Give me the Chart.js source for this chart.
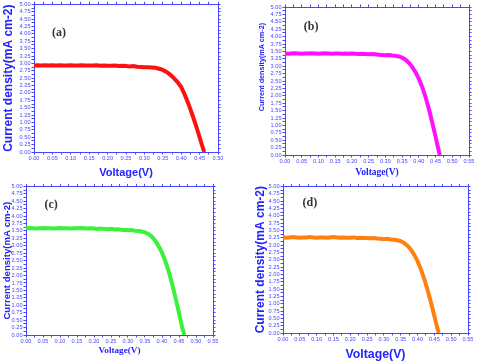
<!DOCTYPE html>
<html>
<head>
<meta charset="utf-8">
<script src="https://cdn.jsdelivr.net/npm/chart.js@4.4.1/dist/chart.umd.min.js"></script>
<style>
  html, body { margin: 0; padding: 0; background: #fff; }
  #wrap { position: relative; width: 480px; height: 364px; overflow: hidden; }
  canvas { position: absolute; }
</style>
</head>
<body>
<div id="wrap">
  <canvas id="chartA" width="240" height="182" style="left:0;top:0"></canvas>
  <canvas id="chartB" width="240" height="182" style="left:240px;top:0"></canvas>
  <canvas id="chartC" width="240" height="182" style="left:0;top:182px"></canvas>
  <canvas id="chartD" width="240" height="182" style="left:240px;top:182px"></canvas>
</div>
<script>
// J-V curves
const voltageA = [0.00,0.01,0.02,0.03,0.04,0.05,0.06,0.07,0.08,0.09,0.10,0.11,0.12,0.13,0.14,0.15,0.16,0.17,0.18,0.19,
  0.20,0.21,0.22,0.23,0.24,0.25,0.26,0.27,0.28,0.29,0.30,0.31,0.32,0.33,0.34,0.35,0.36,0.37,0.38,0.39,
  0.40,0.41,0.42,0.43,0.44,0.45,0.46,0.463];
const currentA = [2.93,2.94,2.93,2.94,2.93,2.94,2.93,2.94,2.93,2.93,2.94,2.93,2.93,2.94,2.93,2.93,2.93,2.94,2.92,2.93,
  2.92,2.92,2.93,2.91,2.92,2.91,2.90,2.91,2.89,2.88,2.87,2.87,2.86,2.85,2.82,2.78,2.71,2.62,2.50,2.37,
  2.20,1.93,1.62,1.27,0.90,0.50,0.09,0.00];

const voltageB = [0.00,0.01,0.02,0.03,0.04,0.05,0.06,0.07,0.08,0.09,0.10,0.11,0.12,0.13,0.14,0.15,0.16,0.17,0.18,0.19,
  0.20,0.21,0.22,0.23,0.24,0.25,0.26,0.27,0.28,0.29,0.30,0.31,0.32,0.33,0.34,0.35,0.36,0.37,0.38,0.39,
  0.40,0.41,0.42,0.43,0.44,0.45,0.46,0.463];
const currentB = [3.43,3.42,3.43,3.44,3.43,3.42,3.43,3.43,3.44,3.43,3.42,3.43,3.44,3.43,3.42,3.43,3.43,3.42,3.43,3.42,
  3.43,3.42,3.41,3.42,3.41,3.40,3.41,3.40,3.39,3.38,3.37,3.38,3.36,3.35,3.33,3.29,3.22,3.12,2.98,2.80,
  2.58,2.30,1.96,1.56,1.10,0.62,0.12,0.00];

const voltageC = [0.00,0.01,0.02,0.03,0.04,0.05,0.06,0.07,0.08,0.09,0.10,0.11,0.12,0.13,0.14,0.15,0.16,0.17,0.18,0.19,
  0.20,0.21,0.22,0.23,0.24,0.25,0.26,0.27,0.28,0.29,0.30,0.31,0.32,0.33,0.34,0.35,0.36,0.37,0.38,0.39,
  0.40,0.41,0.42,0.43,0.44,0.45,0.46,0.466];
const currentC = [3.59,3.60,3.59,3.58,3.59,3.60,3.59,3.59,3.58,3.59,3.60,3.59,3.59,3.58,3.59,3.59,3.60,3.59,3.58,3.59,
  3.58,3.57,3.58,3.57,3.56,3.57,3.55,3.56,3.54,3.53,3.52,3.53,3.51,3.50,3.48,3.45,3.40,3.31,3.17,2.99,
  2.77,2.48,2.13,1.71,1.24,0.74,0.22,0.00];

const voltageD = [0.00,0.01,0.02,0.03,0.04,0.05,0.06,0.07,0.08,0.09,0.10,0.11,0.12,0.13,0.14,0.15,0.16,0.17,0.18,0.19,
  0.20,0.21,0.22,0.23,0.24,0.25,0.26,0.27,0.28,0.29,0.30,0.31,0.32,0.33,0.34,0.35,0.36,0.37,0.38,0.39,
  0.40,0.41,0.42,0.43,0.44,0.45,0.46,0.463];
const currentD = [3.26,3.25,3.26,3.27,3.26,3.25,3.26,3.26,3.27,3.26,3.25,3.26,3.26,3.25,3.26,3.27,3.26,3.25,3.26,3.25,
  3.25,3.26,3.24,3.25,3.24,3.24,3.23,3.24,3.22,3.21,3.20,3.21,3.19,3.18,3.16,3.13,3.07,2.98,2.85,2.67,
  2.45,2.17,1.84,1.46,1.04,0.58,0.12,0.00];

const panelTags = ['(a)', '(b)', '(c)', '(d)'];
const yTitle = 'Current density(mA cm-2)';
const xTitle = 'Voltage(V)';

const AXIS_BLUE = '#4646ff';
const TITLE_BLUE = '#2424ff';
const SANS = 'Arial, "Liberation Sans", sans-serif';
const SERIF = '"Times New Roman", "Liberation Serif", serif';

// Draws the (a)/(b)/... tag at a data position
const tagPlugin = {
  id: 'panelTag',
  afterDatasetsDraw(chart, args, opts) {
    const ctx = chart.ctx;
    const x = chart.scales.x.getPixelForValue(opts.at[0]);
    const y = chart.scales.y.getPixelForValue(opts.at[1]);
    ctx.save();
    ctx.font = 'bold 12px ' + SERIF;
    ctx.fillStyle = '#333';
    ctx.textAlign = 'center';
    ctx.textBaseline = 'middle';
    ctx.fillText(opts.text, x, y);
    ctx.restore();
  }
};

function tickCb(value, index) {
  return index % 2 === 0 ? value.toFixed(2) : '';
}

function makePanel(id, p) {
  const pts = p.v.map((v, i) => ({ x: v, y: p.j[i] }));
  const edge = { display: true, color: AXIS_BLUE, width: 1 };
  const marks = { drawOnChartArea: false, drawTicks: true, tickLength: 2.5, color: AXIS_BLUE };
  const lbl = { color: AXIS_BLUE, font: { family: SANS, size: 5.6 }, padding: 1, autoSkip: false, maxRotation: 0 };

  new Chart(document.getElementById(id), {
    type: 'line',
    data: {
      datasets: [{
        data: pts,
        borderColor: p.color,
        borderWidth: 4,
        pointRadius: 0,
        tension: 0
      }]
    },
    plugins: [tagPlugin],
    options: {
      responsive: false,
      animation: false,
      devicePixelRatio: 1,
      layout: { padding: 0 },
      plugins: {
        legend: { display: false },
        tooltip: { enabled: false },
        panelTag: { text: p.tag, at: p.tagAt }
      },
      scales: {
        x: {
          type: 'linear', position: 'bottom', min: 0, max: p.xMax,
          border: edge, grid: marks,
          ticks: Object.assign({ stepSize: 0.025, callback: tickCb }, lbl),
          title: { display: true, text: xTitle, color: TITLE_BLUE, font: p.xFont, padding: { top: 0, bottom: p.xPad } },
          afterFit: s => { s.height = p.bottom; }
        },
        x2: {
          type: 'linear', position: 'top', min: 0, max: p.xMax,
          border: edge, grid: marks,
          ticks: { display: false, stepSize: 0.025, autoSkip: false },
          afterFit: s => { s.height = p.top; }
        },
        y: {
          type: 'linear', position: 'left', min: 0, max: 5,
          border: edge, grid: marks,
          ticks: Object.assign({ stepSize: 0.125, callback: tickCb }, lbl),
          title: {
            display: true, text: p.yText || yTitle, align: p.yAlign || 'center',
            color: TITLE_BLUE, font: p.yFont, padding: { top: p.yPad, bottom: 0 }
          },
          afterFit: s => { s.width = p.left; }
        },
        y2: {
          type: 'linear', position: 'right', min: 0, max: 5,
          border: edge, grid: marks,
          ticks: { display: false, stepSize: 0.125, autoSkip: false },
          afterFit: s => { s.width = p.right; }
        }
      }
    }
  });
}

makePanel('chartA', {
  v: voltageA, j: currentA, color: '#ff1010', tag: panelTags[0], tagAt: [0.068, 4.05], xMax: 0.50,
  left: 34, right: 22, top: 4, bottom: 30,
  yFont: { family: SANS, size: 12, weight: 'bold' }, yPad: 1,
  xFont: { family: SANS, size: 11, weight: 'bold' }, xPad: 2
});
// (b) has its small y title sitting high on the axis
makePanel('chartB', {
  v: voltageB, j: currentB, color: '#ff10ff', tag: panelTags[1], tagAt: [0.078, 4.32], xMax: 0.55,
  left: 45, right: 11, top: 7, bottom: 27,
  yText: yTitle + '        ', yAlign: 'end',
  yFont: { family: SANS, size: 7.2, weight: 'bold' }, yPad: 18,
  xFont: { family: SERIF, size: 9.5, weight: 'bold' }, xPad: 4
});
makePanel('chartC', {
  v: voltageC, j: currentC, color: '#3cf03c', tag: panelTags[2], tagAt: [0.074, 4.36], xMax: 0.55,
  left: 26, right: 27, top: 4, bottom: 29,
  yFont: { family: SANS, size: 9.6, weight: 'bold' }, yPad: 2,
  xFont: { family: SERIF, size: 9.2, weight: 'bold' }, xPad: 8
});
makePanel('chartD', {
  v: voltageD, j: currentD, color: '#ff8010', tag: panelTags[3], tagAt: [0.080, 4.42], xMax: 0.55,
  left: 43, right: 12, top: 4, bottom: 31,
  yFont: { family: SANS, size: 12, weight: 'bold' }, yPad: 13,
  xFont: { family: SANS, size: 12.3, weight: 'bold' }, xPad: 2
});
</script>
</body>
</html>
